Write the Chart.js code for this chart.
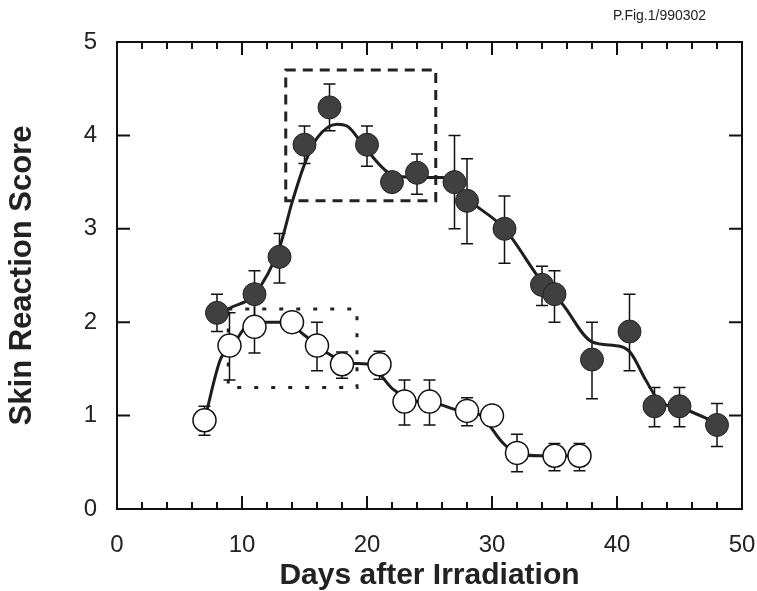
<!DOCTYPE html>
<html>
<head>
<meta charset="utf-8">
<script src="https://cdn.jsdelivr.net/npm/chart.js@4/dist/chart.umd.min.js"></script>
<style>
  html, body { margin: 0; padding: 0; background: #fff; }
  #wrap { width: 757px; height: 591px; }
</style>
</head>
<body>
<div id="wrap"><canvas id="chart" width="757" height="591"></canvas></div>
<script>
// measured points, filled circles
const filledDays = [8, 11, 13, 15, 17, 20, 22, 24, 27, 28, 31, 34, 35, 38, 41, 43, 45, 48];
const filledScore = [2.1, 2.3, 2.7, 3.9, 4.3, 3.9, 3.5, 3.6, 3.5, 3.3, 3.0, 2.4, 2.3, 1.6, 1.9, 1.1, 1.1, 0.9];
const filledHigh = [2.3, 2.55, 2.95, 4.1, 4.55, 4.1, 3.5, 3.8, 4.0, 3.75, 3.35, 2.6, 2.55, 2.0, 2.3, 1.3, 1.3, 1.13];
const filledLow = [1.9, 2.05, 2.42, 3.7, 4.05, 3.67, 3.5, 3.37, 3.0, 2.84, 2.63, 2.18, 2.0, 1.18, 1.48, 0.88, 0.88, 0.67];

// open circles
const openDays = [7, 9, 11, 14, 16, 18, 21, 23, 25, 28, 30, 32, 35, 37];
const openScore = [0.95, 1.75, 1.95, 2.0, 1.75, 1.55, 1.55, 1.15, 1.15, 1.05, 1.0, 0.6, 0.57, 0.57];
const openHigh = [1.1, 2.1, 2.2, 2.0, 2.0, 1.68, 1.69, 1.38, 1.38, 1.19, 1.0, 0.8, 0.7, 0.7];
const openLow = [0.79, 1.38, 1.67, 2.0, 1.48, 1.4, 1.39, 0.9, 0.9, 0.89, 1.0, 0.4, 0.41, 0.41];

// smooth fit curves
const filledFitDays = [8, 9, 11, 13, 14, 15, 16, 17.6, 18.4, 20, 22, 24, 26, 27, 28, 31, 34, 35.6, 38, 40.3, 41.1, 42.3, 43.3, 45.6, 48];
const filledFitScore = [2.07, 2.15, 2.3, 2.8, 3.28, 3.69, 3.97, 4.12, 4.1, 3.84, 3.58, 3.55, 3.55, 3.49, 3.33, 3.0, 2.43, 2.2, 1.79, 1.74, 1.67, 1.38, 1.17, 1.06, 0.92];
const openFitDays = [7, 8.3, 9, 10.7, 12, 13.4, 15, 16.7, 18.75, 20.1, 22.1, 23.5, 25.8, 27.2, 29, 30.85, 31.9, 33.9, 37];
const openFitScore = [0.95, 1.61, 1.7, 1.99, 2.0, 2.0, 1.86, 1.68, 1.56, 1.55, 1.28, 1.17, 1.12, 1.06, 1.01, 0.71, 0.6, 0.57, 0.57];

// dashed boxes: [xMin, xMax, yMin, yMax]
const peakBox = [13.5, 25.5, 3.3, 4.7];
const earlyBox = [8.9, 19.2, 1.3, 2.14];

const xTicks = [0, 10, 20, 30, 40, 50];
const yTicks = [0, 1, 2, 3, 4, 5];
const xTitle = "Days after Irradiation";
const yTitle = "Skin Reaction Score";
const figTag = "P.Fig.1/990302";

const pts = (xs, ys) => xs.map((x, i) => ({ x: x, y: ys[i] }));
const FONT = "'Liberation Sans', Arial, sans-serif";

const frame = {
  id: "frame",
  beforeDatasetsDraw(chart) {
    const ctx = chart.ctx;
    const xs = chart.scales.x, ys = chart.scales.y;
    ctx.save();
    ctx.strokeStyle = "#222";

    ctx.lineWidth = 3;
    ctx.setLineDash([10, 7]);
    ctx.strokeRect(xs.getPixelForValue(peakBox[0]), ys.getPixelForValue(peakBox[3]),
      xs.getPixelForValue(peakBox[1]) - xs.getPixelForValue(peakBox[0]),
      ys.getPixelForValue(peakBox[2]) - ys.getPixelForValue(peakBox[3]));
    ctx.setLineDash([4, 13]);
    ctx.strokeRect(xs.getPixelForValue(earlyBox[0]), ys.getPixelForValue(earlyBox[3]),
      xs.getPixelForValue(earlyBox[1]) - xs.getPixelForValue(earlyBox[0]),
      ys.getPixelForValue(earlyBox[2]) - ys.getPixelForValue(earlyBox[3]));
    ctx.setLineDash([]);

    // error bars
    ctx.lineWidth = 1.5;
    ctx.strokeStyle = "#111";
    const bars = (days, hi, lo) => {
      days.forEach((d, i) => {
        if (hi[i] === lo[i]) return;
        const px = xs.getPixelForValue(d);
        const t = ys.getPixelForValue(hi[i]), b = ys.getPixelForValue(lo[i]);
        ctx.beginPath();
        ctx.moveTo(px, t); ctx.lineTo(px, b);
        ctx.moveTo(px - 6, t); ctx.lineTo(px + 6, t);
        ctx.moveTo(px - 6, b); ctx.lineTo(px + 6, b);
        ctx.stroke();
      });
    };
    bars(filledDays, filledHigh, filledLow);
    bars(openDays, openHigh, openLow);
    ctx.restore();
  },
  afterDraw(chart) {
    const ctx = chart.ctx;
    const a = chart.chartArea;
    const xs = chart.scales.x, ys = chart.scales.y;
    ctx.save();
    ctx.strokeStyle = "#111";
    ctx.lineWidth = 2;
    ctx.strokeRect(a.left, a.top, a.right - a.left, a.bottom - a.top);
    ctx.beginPath();
    for (let d = 0; d <= 50; d += 2) {
      const px = xs.getPixelForValue(d);
      const len = d % 10 === 0 ? 13 : 7;
      ctx.moveTo(px, a.bottom); ctx.lineTo(px, a.bottom - len);
      ctx.moveTo(px, a.top); ctx.lineTo(px, a.top + len);
    }
    yTicks.forEach(v => {
      const py = ys.getPixelForValue(v);
      ctx.moveTo(a.left, py); ctx.lineTo(a.left + 13, py);
      ctx.moveTo(a.right, py); ctx.lineTo(a.right - 13, py);
    });
    ctx.stroke();

    // axis titles
    ctx.fillStyle = "#222";
    ctx.textAlign = "center";
    ctx.textBaseline = "middle";
    ctx.font = "bold 30px " + FONT;
    ctx.fillText(xTitle, (a.left + a.right) / 2, 576);
    ctx.font = "bold 31px " + FONT;
    ctx.save();
    ctx.translate(22, (a.top + a.bottom) / 2);
    ctx.rotate(-Math.PI / 2);
    ctx.fillText(yTitle, 0, 0);
    ctx.restore();

    ctx.font = "14px " + FONT;
    ctx.textAlign = "left";
    ctx.textBaseline = "alphabetic";
    ctx.fillText(figTag, 613, 20);
    ctx.restore();
  }
};

new Chart(document.getElementById("chart"), {
  type: "scatter",
  data: {
    datasets: [
      {
        label: "filled",
        data: pts(filledDays, filledScore),
        pointRadius: 11.5,
        pointBackgroundColor: "#404040",
        pointBorderColor: "#222",
        pointBorderWidth: 1,
        showLine: false
      },
      {
        label: "open",
        data: pts(openDays, openScore),
        pointRadius: 11.5,
        pointBackgroundColor: "#fff",
        pointBorderColor: "#111",
        pointBorderWidth: 1.5,
        showLine: false
      },
      {
        label: "filled fit",
        data: pts(filledFitDays, filledFitScore),
        showLine: true,
        pointRadius: 0,
        borderColor: "#1e1e1e",
        borderWidth: 3,
        cubicInterpolationMode: "monotone"
      },
      {
        label: "open fit",
        data: pts(openFitDays, openFitScore),
        showLine: true,
        pointRadius: 0,
        borderColor: "#1e1e1e",
        borderWidth: 3,
        cubicInterpolationMode: "monotone"
      }
    ]
  },
  options: {
    responsive: false,
    animation: false,
    layout: { padding: { top: 42, right: 15, left: 0, bottom: 0 } },
    plugins: { legend: { display: false }, tooltip: { enabled: false } },
    scales: {
      x: {
        type: "linear",
        min: 0, max: 50,
        afterBuildTicks: s => { s.ticks = xTicks.map(v => ({ value: v })); },
        afterFit: s => { s.height = 82; s.paddingLeft = 0; s.paddingRight = 0; },
        grid: { display: false, drawTicks: false },
        border: { display: false },
        ticks: { padding: 22, color: "#222", font: { family: FONT, size: 24 } }
      },
      y: {
        type: "linear",
        min: 0, max: 5,
        afterBuildTicks: s => { s.ticks = yTicks.map(v => ({ value: v })); },
        afterFit: s => { s.width = 117; s.paddingTop = 0; s.paddingBottom = 0; },
        grid: { display: false, drawTicks: false },
        border: { display: false },
        ticks: { padding: 20, color: "#222", font: { family: FONT, size: 24 } }
      }
    }
  },
  plugins: [frame]
});
</script>
</body>
</html>
